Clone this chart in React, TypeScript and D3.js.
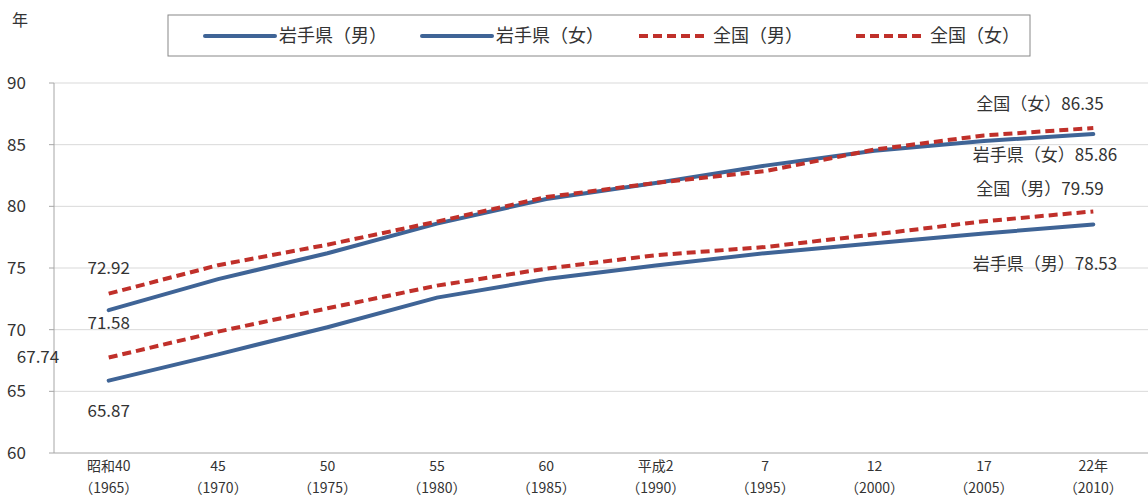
import * as d3 from 'd3';

const categories = ['昭和40', '45', '50', '55', '60', '平成2', '7', '12', '17', '22年'];
const years = ['（1965）', '（1970）', '（1975）', '（1980）', '（1985）', '（1990）', '（1995）', '（2000）', '（2005）', '（2010）'];
const iwateMale = [65.87, 68.0, 70.2, 72.6, 74.1, 75.2, 76.2, 77.0, 77.8, 78.53];
const iwateFemale = [71.58, 74.1, 76.2, 78.6, 80.6, 81.9, 83.3, 84.5, 85.3, 85.86];
const japanMale = [67.74, 69.84, 71.73, 73.57, 74.95, 76.04, 76.7, 77.72, 78.79, 79.59];
const japanFemale = [72.92, 75.23, 76.89, 78.76, 80.75, 81.9, 82.85, 84.6, 85.75, 86.35];
const yTicks = [60, 65, 70, 75, 80, 85, 90];

const BLUE = '#3f6496';
const RED = '#c0302a';
const series = [
  { name: '岩手県（男）', values: iwateMale, color: BLUE, dash: '' },
  { name: '岩手県（女）', values: iwateFemale, color: BLUE, dash: '' },
  { name: '全国（男）', values: japanMale, color: RED, dash: '9,5' },
  { name: '全国（女）', values: japanFemale, color: RED, dash: '9,5' },
];

export default function App() {
  const width = 1148, height = 497;
  const left = 54, right = 1148, top = 83, bottom = 453;
  const x = d3.scaleBand<string>().domain(categories).range([left, right]);
  const y = d3.scaleLinear().domain([60, 90]).range([bottom, top]);
  const cx = (i: number) => (x(categories[i]) as number) + x.bandwidth() / 2;
  const line = d3.line<number>().x((_, i) => cx(i)).y(d => y(d));
  const font = '"Noto Sans CJK JP", "Noto Sans", sans-serif';

  // label centres, offset from the point they describe
  const labels = [
    { text: '全国（女）86.35', x: 1040, y: y(86.35) - 24 },
    { text: '岩手県（女）85.86', x: 1045, y: y(85.86) + 21 },
    { text: '全国（男）79.59', x: 1040, y: y(79.59) - 22 },
    { text: '岩手県（男）78.53', x: 1045, y: y(78.53) + 40 },
    { text: japanFemale[0].toFixed(2), x: cx(0), y: y(japanFemale[0]) - 26 },
    { text: iwateFemale[0].toFixed(2), x: cx(0), y: y(iwateFemale[0]) + 13 },
    { text: japanMale[0].toFixed(2), x: 38, y: y(japanMale[0]) },
    { text: iwateMale[0].toFixed(2), x: cx(0), y: y(iwateMale[0]) + 30 },
  ];

  return (
    <svg width={width} height={height} style={{ position: 'absolute', left: 0, top: 0, fontFamily: font }}>
      <rect width={width} height={height} fill="white" />
      {yTicks.map(t => (
        <g key={t}>
          {t > 60 && <line x1={left} x2={right} y1={y(t)} y2={y(t)} stroke="#d9d9d9" />}
          <line x1={left - 5} x2={left} y1={y(t)} y2={y(t)} stroke="#a6a6a6" />
          <text x={7} y={y(t)} dy="0.35em" fontSize={17} fill="#333">{t}</text>
        </g>
      ))}
      <line x1={left} x2={left} y1={top} y2={bottom} stroke="#a6a6a6" />
      <line x1={left} x2={right} y1={bottom} y2={bottom} stroke="#a6a6a6" />
      {categories.map((c, i) => (
        <g key={c}>
          <text x={cx(i)} y={471} textAnchor="middle" fontSize={14} fill="#333">{c}</text>
          <text x={cx(i)} y={493} textAnchor="middle" fontSize={14} fill="#333">{years[i]}</text>
        </g>
      ))}
      <text x={12} y={26} fontSize={16} fill="#333">年</text>
      {series.map(s => (
        <path key={s.name} d={line(s.values) ?? ''} fill="none" stroke={s.color} strokeWidth={4}
          strokeDasharray={s.dash || undefined} strokeLinecap={s.dash ? 'butt' : 'round'} />
      ))}
      {labels.map(l => (
        <text key={l.text} x={l.x} y={l.y} dy="0.35em" textAnchor="middle" fontSize={17} fill="#333">{l.text}</text>
      ))}
      <rect x={168} y={15} width={862} height={41} fill="white" stroke="#888" />
      {series.map((s, i) => {
        const lx = 205 + i * 217;
        return (
          <g key={s.name}>
            <line x1={lx} x2={lx + 70} y1={36} y2={36} stroke={s.color} strokeWidth={4}
              strokeDasharray={s.dash || undefined} strokeLinecap={s.dash ? 'butt' : 'round'} />
            <text x={lx + 74} y={36} dy="0.35em" fontSize={18} fill="#333">{s.name}</text>
          </g>
        );
      })}
    </svg>
  );
}
